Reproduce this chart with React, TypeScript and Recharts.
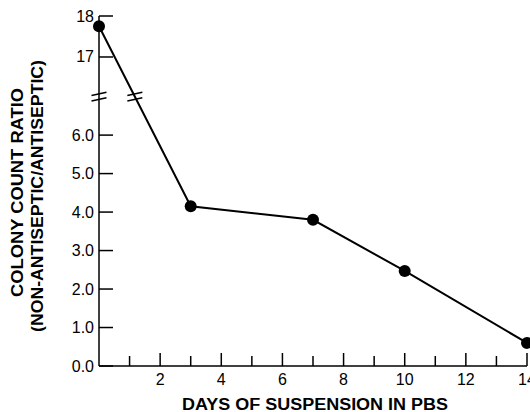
import React from "react";
import { LineChart, Line, XAxis, YAxis, ReferenceDot } from "recharts";

// ---- data ----
const days = [0, 3, 7, 10, 14];
const ratios = [17.75, 4.15, 3.8, 2.47, 0.6];

const yTickValues = [0, 1, 2, 3, 4, 5, 6, 17, 18];
const yTickLabels = ["0.0", "1.0", "2.0", "3.0", "4.0", "5.0", "6.0", "17", "18"];
const xTickValues = [1, 2, 3, 4, 5, 6, 7, 8, 9, 10, 11, 12, 13, 14];

const xTitle = "DAYS OF SUSPENSION IN PBS";
const yTitle1 = "COLONY COUNT RATIO";
const yTitle2 = "(NON-ANTISEPTIC/ANTISEPTIC)";

// ---- broken axis mapping ----
const BREAK_DISPLAY = 7;
const UPPER_START = 17;
const UPPER_BASE = 8.03;
const UPPER_SCALE = 1.065;
const toDisplay = (v: number) =>
  v >= UPPER_START ? UPPER_BASE + (v - UPPER_START) * UPPER_SCALE : v;

const data = days.map((d, i) => ({ x: d, d: toDisplay(ratios[i]) }));
const yTickDisplay = yTickValues.map(toDisplay);
const yTop = toDisplay(18);

// x where the first segment crosses the break level
const d0 = data[0].d;
const d1 = data[1].d;
const t = (d0 - BREAK_DISPLAY) / (d0 - d1);
const lineBreakX = data[0].x + t * (data[1].x - data[0].x);

const FONT = "'Liberation Sans', Arial, Helvetica, sans-serif";

const YTick = (props: any) => {
  const { x, y, payload } = props;
  const i = yTickDisplay.findIndex((v) => Math.abs(v - payload.value) < 1e-6);
  return (
    <g>
      <line x1={x} x2={x + 14} y1={y} y2={y} stroke="#000" strokeWidth={1.5} />
      <text x={x - 5} y={y + 5.5} textAnchor="end" fontSize={16} fontFamily={FONT} fill="#000">
        {i >= 0 ? yTickLabels[i] : ""}
      </text>
    </g>
  );
};

const XTick = (props: any) => {
  const { x, y, payload } = props;
  const major = payload.value % 2 === 0;
  return (
    <g>
      <line x1={x} x2={x} y1={y} y2={y - (major ? 13 : 10)} stroke="#000" strokeWidth={1.5} />
      {major && (
        <text x={x} y={y + 18.5} textAnchor="middle" fontSize={16} fontFamily={FONT} fill="#000">
          {payload.value}
        </text>
      )}
    </g>
  );
};

const YLabel = (props: any) => {
  const vb = props.viewBox || { x: 0, y: 16, width: 99, height: 350 };
  const cy = vb.y + vb.height / 2;
  const x1 = vb.x + 23;
  const x2 = vb.x + 43;
  return (
    <g>
      <text
        x={x1}
        y={cy + 1.5}
        transform={`rotate(-90, ${x1}, ${cy + 1.5})`}
        textAnchor="middle"
        fontSize={16}
        fontWeight="bold"
        fontFamily={FONT}
        fill="#000"
        textLength={209}
        lengthAdjust="spacingAndGlyphs"
      >
        {yTitle1}
      </text>
      <text
        x={x2}
        y={cy + 5}
        transform={`rotate(-90, ${x2}, ${cy + 5})`}
        textAnchor="middle"
        fontSize={16}
        fontWeight="bold"
        fontFamily={FONT}
        fill="#000"
        textLength={272}
        lengthAdjust="spacingAndGlyphs"
      >
        {yTitle2}
      </text>
    </g>
  );
};

const XLabel = (props: any) => {
  const vb = props.viewBox || { x: 99, y: 366, width: 428, height: 46 };
  const cx = vb.x + vb.width / 2 + 2;
  return (
    <text
      x={cx}
      y={vb.y + 44}
      textAnchor="middle"
      fontSize={16}
      fontWeight="bold"
      fontFamily={FONT}
      fill="#000"
      textLength={266}
      lengthAdjust="spacingAndGlyphs"
    >
      {xTitle}
    </text>
  );
};

const BreakMark = (props: any) => {
  const { cx, cy } = props;
  if (cx == null || cy == null) return null;
  const half = 7.5;
  const rise = 1.6;
  return (
    <g>
      {[-2.7, 2.7].map((off) => (
        <line
          key={off}
          x1={cx - half}
          y1={cy + off + rise}
          x2={cx + half}
          y2={cy + off - rise}
          stroke="#000"
          strokeWidth={1.5}
        />
      ))}
    </g>
  );
};

export default function App() {
  return (
    <div
      style={{
        position: "absolute",
        left: 0,
        top: 0,
        width: 530,
        height: 412,
        overflow: "hidden",
        background: "#fff",
      }}
    >
      <LineChart width={560} height={412} data={data} margin={{ top: 16, right: 33, bottom: 0, left: 0 }}>
        <XAxis
          dataKey="x"
          type="number"
          domain={[0, 14]}
          ticks={xTickValues}
          interval={0}
          tick={<XTick />}
          tickLine={false}
          tickSize={0}
          tickMargin={0}
          height={46}
          axisLine={{ stroke: "#000", strokeWidth: 1.5 }}
          label={<XLabel />}
        />
        <YAxis
          type="number"
          domain={[0, yTop]}
          ticks={yTickDisplay}
          interval={0}
          tick={<YTick />}
          tickLine={false}
          tickSize={0}
          tickMargin={0}
          width={99}
          axisLine={{ stroke: "#000", strokeWidth: 1.5 }}
          label={<YLabel />}
        />
        <Line
          type="linear"
          dataKey="d"
          stroke="#000"
          strokeWidth={2}
          dot={{ r: 6, fill: "#000", stroke: "#000", strokeWidth: 0 }}
          activeDot={false}
          isAnimationActive={false}
        />
        <ReferenceDot x={0} y={BREAK_DISPLAY} r={0} ifOverflow="visible" shape={<BreakMark />} />
        <ReferenceDot x={lineBreakX} y={BREAK_DISPLAY} r={0} ifOverflow="visible" shape={<BreakMark />} />
      </LineChart>
    </div>
  );
}
